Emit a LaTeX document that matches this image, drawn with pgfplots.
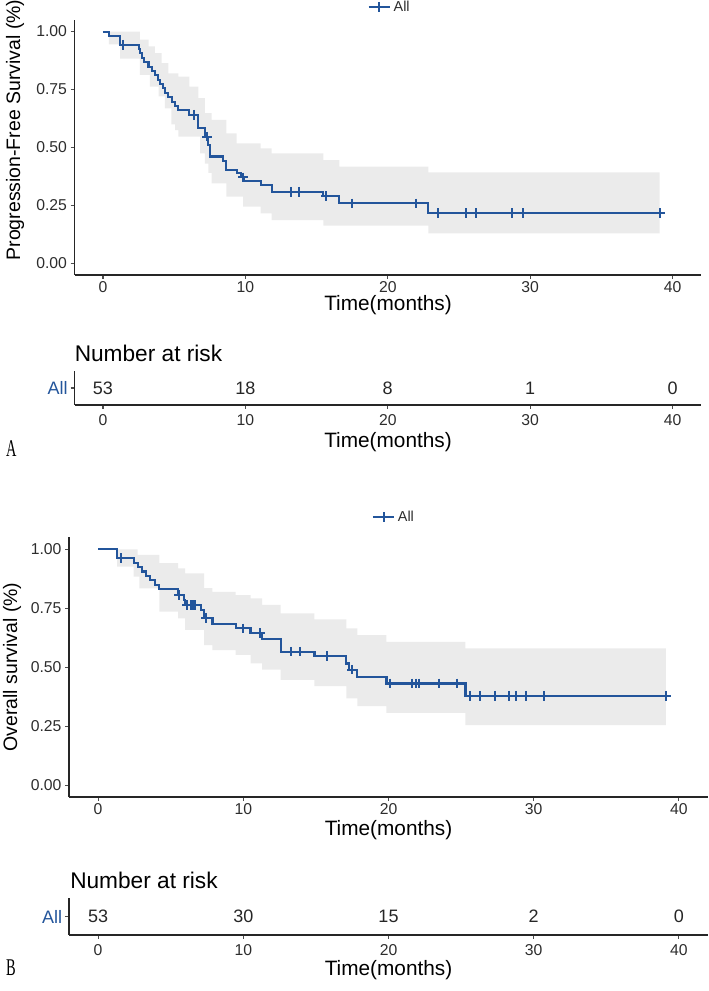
\documentclass[border=0pt]{standalone}
\usepackage{fontspec}
\setmainfont{Liberation Sans}
\newfontfamily\serifAB{Liberation Serif}
\usepackage{pgfplots}
\pgfplotsset{compat=1.18}
\usepgfplotslibrary{fillbetween}
\usepackage{pgfplotstable}
\definecolor{kmblue}{RGB}{35,85,155}
\definecolor{band}{RGB}{235,235,235}
\definecolor{tickgray}{RGB}{45,45,45}
\newcommand{\tickfont}{\fontsize{11.8}{13}\selectfont}
\newcommand{\titlefont}{\fontsize{14.6}{16}\selectfont}
\newcommand{\xtitlefont}{\fontsize{15.6}{17}\selectfont}
\newcommand{\narfont}{\fontsize{17}{19}\selectfont}
\newcommand{\riskfont}{\fontsize{13.5}{15}\selectfont}
\newcommand{\legfont}{\fontsize{10.8}{12}\selectfont}

% PFS curve
\pgfplotstableread{
t s
0 1.000
0.42 0.981
1.2 0.943
2.5 0.925
2.6 0.906
2.74 0.887
2.9 0.868
3.2 0.849
3.42 0.830
3.65 0.811
3.85 0.792
4.0 0.774
4.2 0.755
4.35 0.736
4.59 0.717
4.82 0.698
5.06 0.679
5.29 0.660
6.06 0.641
6.7 0.584
7.16 0.547
7.4 0.510
7.51 0.461
8.45 0.440
8.67 0.403
9.39 0.389
9.7 0.371
9.9 0.357
11.07 0.338
11.85 0.309
15.47 0.290
16.6 0.259
22.85 0.218
39.1 0.218
}\pfscurve
\pgfplotstableread{
t s
1.43 0.943
6.4 0.641
7.3 0.547
9.85 0.371
13.2 0.309
13.8 0.309
15.66 0.290
17.5 0.259
21.98 0.259
23.5 0.218
25.5 0.218
26.2 0.218
28.7 0.218
29.5 0.218
39.1 0.218
}\pfscens
\pgfplotstableread{
t s
0 1.000
2.6 0.965
3.2 0.936
3.65 0.907
4.12 0.864
4.59 0.820
5.29 0.806
6.06 0.763
6.7 0.713
7.16 0.648
7.63 0.619
8.67 0.561
9.39 0.518
11.07 0.496
11.85 0.475
15.47 0.446
16.6 0.417
22.85 0.393
39.1 0.393
}\pfsup
\pgfplotstableread{
t s
0 1.000
0.42 0.945
1.2 0.883
2.6 0.813
3.3 0.763
3.9 0.720
4.35 0.669
4.8 0.600
5.06 0.575
5.29 0.547
6.82 0.475
7.16 0.430
7.4 0.390
7.63 0.345
8.67 0.288
9.85 0.245
11.07 0.216
11.85 0.187
15.47 0.163
22.85 0.130
39.1 0.130
}\pfslo
% OS curve
\pgfplotstableread{
t s
0 1.000
1.31 0.962
2.45 0.943
2.75 0.924
3.0 0.906
3.3 0.887
3.6 0.868
3.9 0.849
4.22 0.830
5.52 0.806
5.89 0.785
6.0 0.764
7.08 0.742
7.3 0.710
7.88 0.682
9.48 0.665
10.5 0.645
11.3 0.620
12.58 0.566
14.9 0.547
17.1 0.516
17.25 0.490
17.85 0.460
19.86 0.431
25.3 0.379
39.1 0.379
}\oscurve
\pgfplotstableread{
t s
1.58 0.962
5.59 0.806
6.12 0.764
6.39 0.764
6.51 0.764
6.67 0.764
7.42 0.710
10.0 0.665
11.15 0.645
13.26 0.566
13.9 0.566
15.74 0.547
17.5 0.490
20.1 0.431
21.6 0.431
21.9 0.431
22.1 0.431
23.5 0.431
24.7 0.431
25.6 0.379
26.3 0.379
27.3 0.379
28.3 0.379
28.8 0.379
29.5 0.379
30.7 0.379
39.1 0.379
}\oscens
\pgfplotstableread{
t s
0 1.000
1.31 1.000
2.73 0.976
4.22 0.941
5.52 0.919
6.0 0.898
7.3 0.835
7.88 0.820
9.48 0.806
10.5 0.792
11.3 0.764
12.58 0.728
14.9 0.703
17.1 0.665
17.85 0.636
19.86 0.608
25.3 0.580
39.1 0.580
}\osup
\pgfplotstableread{
t s
0 1.000
1.31 0.926
2.45 0.884
2.84 0.834
4.22 0.736
5.52 0.707
6.0 0.658
7.3 0.594
7.88 0.573
9.48 0.552
10.5 0.516
11.3 0.490
12.58 0.446
14.9 0.420
17.1 0.368
17.85 0.335
19.86 0.307
25.3 0.255
39.1 0.255
}\oslo
\pgfplotstableread{
x y n
0 1 53
10 1 18
20 1 8
30 1 1
40 1 0
}\pfsrisk
\pgfplotstableread{
x y n
0 1 53
10 1 30
20 1 15
30 1 2
40 1 0
}\osrisk

\pgfplotsset{
  base/.style={scale only axis, axis x line*=bottom, axis y line*=left,
    axis line style={-, line width=0.8pt, black!85},
    xmin=-2, xmax=42, xtick={0,10,20,30,40},
    tick align=outside, major tick length=3pt,
    tick style={line width=0.8pt, black!70},
    ticklabel style={font=\tickfont, text=tickgray},
    xticklabel style={inner sep=1.5pt},
    /pgf/number format/assume math mode=true},
  km/.style={base, ymin=-0.05, ymax=1.05, ytick={0,0.25,0.5,0.75,1},
    yticklabels={0.00,0.25,0.50,0.75,1.00},
    yticklabel style={inner sep=2.5pt},
    legend style={draw=none, fill=none, font=\legfont, text=tickgray}},
  risk/.style={base, ymin=0.4, ymax=1.6, ytick={1}, yticklabels={All},
    xticklabel style={inner sep=3.8pt},
    yticklabel style={text=kmblue, font=\riskfont, inner sep=2pt}},
  curve/.style={kmblue, line width=1.6pt, const plot, mark=none},
  cens/.style={kmblue, only marks, mark=+, mark size=3.6pt, line width=1.5pt},
  riskn/.style={draw=none, mark=none, nodes near coords, point meta=explicit symbolic,
    every node near coord/.append style={anchor=center, font=\riskfont, text=black!85}},
}
\newcommand{\legimg}{\addlegendimage{legend image code/.code={
  \draw[kmblue, line width=1.5pt] (0pt,0pt) -- (16pt,0pt);
  \draw[kmblue, line width=1.5pt] (8pt,-3.6pt) -- (8pt,3.6pt);
  \draw[kmblue, line width=1.5pt] (4.4pt,0pt) -- (11.6pt,0pt);}}}

\begin{document}
\begin{tikzpicture}
% ---------- A: PFS ----------
\begin{axis}[km, at={(55.875pt,537pt)}, anchor=south west,
  width=469.875pt, height=191.25pt,
  legend style={at={(0.5036,1.051)}, anchor=center}]
\legimg
\addlegendentry{All}
\addplot[name path=U, draw=none, const plot, forget plot] table[x=t,y=s] {\pfsup};
\addplot[name path=L, draw=none, const plot, forget plot] table[x=t,y=s] {\pfslo};
\addplot[band, forget plot] fill between[of=U and L];
\addplot[curve, forget plot] table[x=t,y=s] {\pfscurve};
\addplot[cens, forget plot] table[x=t,y=s] {\pfscens};
\end{axis}
\begin{axis}[risk, at={(55.875pt,439.5pt)}, anchor=south west,
  width=469.875pt, height=25.5pt]
\addplot[riskn] table[x=x,y=y,meta=n] {\pfsrisk};
\end{axis}
% ---------- B: OS ----------
\begin{axis}[km, at={(51.75pt,145.5pt)}, anchor=south west,
  width=479.25pt, height=194.625pt,
  legend style={at={(0.509,1.079)}, anchor=center}]
\legimg
\addlegendentry{All}
\addplot[name path=U2, draw=none, const plot, forget plot] table[x=t,y=s] {\osup};
\addplot[name path=L2, draw=none, const plot, forget plot] table[x=t,y=s] {\oslo};
\addplot[band, forget plot] fill between[of=U2 and L2];
\addplot[curve, forget plot] table[x=t,y=s] {\oscurve};
\addplot[cens, forget plot] table[x=t,y=s] {\oscens};
\end{axis}
\begin{axis}[risk, at={(51.75pt,42pt)}, anchor=south west,
  width=479.25pt, height=27.75pt]
\addplot[riskn] table[x=x,y=y,meta=n] {\osrisk};
\end{axis}
% ---------- texts ----------
\node[rotate=90, font=\titlefont, text=black] at (11.25pt,645.75pt) {Progression-Free Survival (\%)};
\node[font=\xtitlefont] at (291pt,514.5pt) {Time(months)};
\node[font=\narfont, anchor=west, inner sep=0pt] at (55.875pt,478.5pt) {Number at risk};
\node[font=\xtitlefont] at (291pt,411.75pt) {Time(months)};
\node[font=\fontsize{18}{20}\selectfont\serifAB, anchor=west, inner sep=0pt, xscale=0.6] at (4.5pt,406.5pt) {A};
\node[rotate=90, font=\titlefont] at (9pt,243pt) {Overall survival (\%)};
\node[font=\xtitlefont] at (291.4pt,120.75pt) {Time(months)};
\node[font=\narfont, anchor=west, inner sep=0pt] at (52.5pt,83.25pt) {Number at risk};
\node[font=\xtitlefont] at (291.4pt,15.75pt) {Time(months)};
\node[font=\fontsize{18}{20}\selectfont\serifAB, anchor=west, inner sep=0pt, xscale=0.6] at (4.5pt,17.25pt) {B};
\pgfresetboundingbox
\useasboundingbox (0,0) rectangle (531pt,743.25pt);
\end{tikzpicture}
\end{document}
